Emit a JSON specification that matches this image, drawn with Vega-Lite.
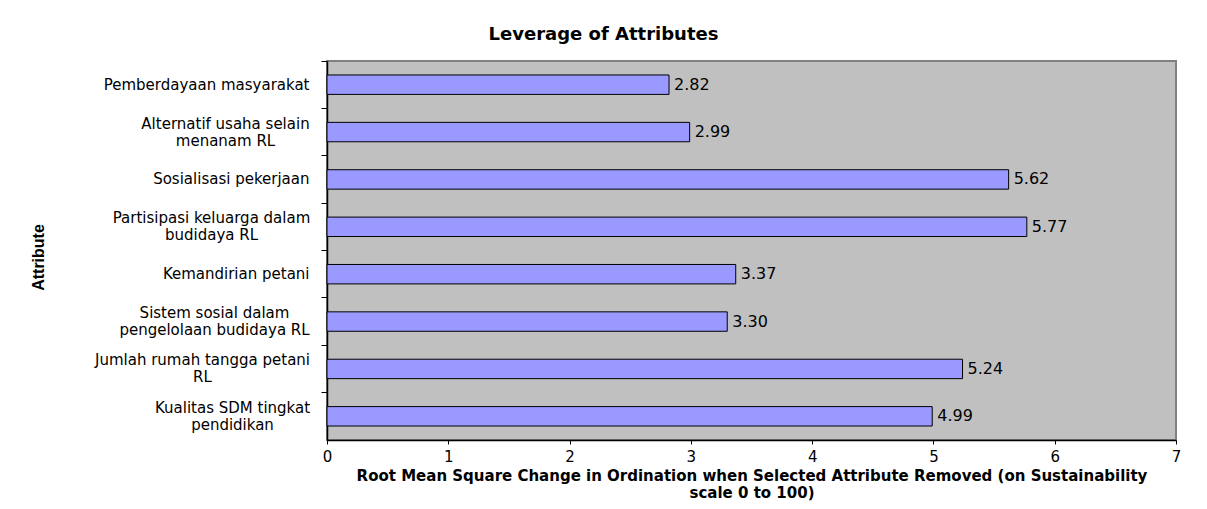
{
  "$schema": "https://vega.github.io/schema/vega-lite/v6.json",
  "width": 849,
  "height": 379,
  "autosize": {"type": "none"},
  "padding": {"left": 327, "top": 61, "right": 31, "bottom": 69},
  "background": "white",
  "title": {
    "text": "Leverage of Attributes",
    "font": "DejaVu Sans",
    "fontSize": 18,
    "fontWeight": "bold",
    "color": "black",
    "anchor": "middle",
    "dx": -148,
    "offset": 17
  },
  "data": {
    "values": [
      {"attr": "Pemberdayaan masyarakat", "value": 2.82},
      {"attr": "Alternatif usaha selain|menanam RL", "value": 2.99},
      {"attr": "Sosialisasi pekerjaan", "value": 5.62},
      {"attr": "Partisipasi keluarga dalam|budidaya RL", "value": 5.77},
      {"attr": "Kemandirian petani", "value": 3.37},
      {"attr": "Sistem sosial dalam|pengelolaan budidaya RL", "value": 3.30},
      {"attr": "Jumlah rumah tangga petani|RL", "value": 5.24},
      {"attr": "Kualitas SDM tingkat|pendidikan", "value": 4.99}
    ]
  },
  "encoding": {
    "y": {
      "field": "attr",
      "type": "nominal",
      "sort": null,
      "scale": {"paddingInner": 0, "paddingOuter": 0},
      "axis": {
        "title": "Attribute",
        "titleFont": "Liberation Sans",
        "titleFontSize": 16,
        "titleFontWeight": "bold",
        "titleColor": "black",
        "titleX": -289,
        "titleY": 196,
        "titleAngle": 270,
        "titleAlign": "center",
        "titleBaseline": "middle",
        "labelExpr": "split(datum.label, '|')",
        "labelFont": "DejaVu Sans",
        "labelFontSize": 15,
        "labelLineHeight": 17,
        "labelColor": "black",
        "labelLimit": 400,
        "labelAlign": {
          "condition": {"test": "indexof(datum.value, '|') >= 0", "value": "center"},
          "value": "right"
        },
        "labelOffset": {
          "condition": {"test": "indexof(datum.value, '|') >= 0", "value": -8.5},
          "value": 0
        },
        "labelPadding": {
          "condition": [
            {"test": "datum.value == 'Alternatif usaha selain|menanam RL'", "value": 96},
            {"test": "datum.value == 'Partisipasi keluarga dalam|budidaya RL'", "value": 110},
            {"test": "datum.value == 'Sistem sosial dalam|pengelolaan budidaya RL'", "value": 107},
            {"test": "datum.value == 'Jumlah rumah tangga petani|RL'", "value": 119},
            {"test": "datum.value == 'Kualitas SDM tingkat|pendidikan'", "value": 89}
          ],
          "value": 12
        },
        "bandPosition": 0,
        "tickSize": 6,
        "tickColor": "black",
        "domainColor": "black",
        "domainWidth": 1.5,
        "grid": false
      }
    },
    "x": {
      "field": "value",
      "type": "quantitative",
      "scale": {"domain": [0, 7], "nice": false, "zero": true},
      "axis": {
        "title": ["Root Mean Square Change in Ordination when Selected Attribute Removed (on Sustainability", "scale 0 to 100)"],
        "titleFont": "DejaVu Sans",
        "titleFontSize": 15,
        "titleFontWeight": "bold",
        "titleColor": "black",
        "titleLineHeight": 17,
        "titlePadding": 4,
        "values": [0, 1, 2, 3, 4, 5, 6, 7],
        "labelFont": "DejaVu Sans",
        "labelFontSize": 15,
        "labelColor": "black",
        "labelFlush": false,
        "labelPadding": 5,
        "tickSize": 4,
        "tickColor": "black",
        "domainColor": "black",
        "domainWidth": 1.5,
        "grid": false
      }
    }
  },
  "layer": [
    {
      "mark": {
        "type": "bar",
        "height": {"band": 0.41},
        "fill": "#9999FF",
        "stroke": "black",
        "strokeWidth": 1
      }
    },
    {
      "mark": {
        "type": "text",
        "align": "left",
        "baseline": "middle",
        "dx": 5,
        "font": "DejaVu Sans",
        "fontSize": 16,
        "color": "black"
      },
      "encoding": {
        "text": {"field": "value", "type": "quantitative", "format": ".2f"}
      }
    }
  ],
  "config": {
    "view": {"fill": "#C0C0C0", "stroke": "#808080", "strokeWidth": 2}
  }
}
